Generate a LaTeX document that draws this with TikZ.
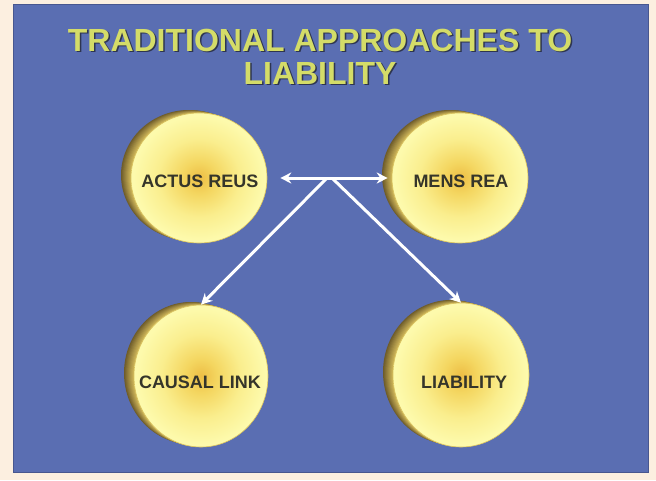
\documentclass[tikz,border=0pt]{standalone}
\usepackage{fontspec}
\setmainfont{Liberation Sans}
\usetikzlibrary{shapes.geometric,arrows.meta}
\definecolor{peach}{HTML}{FCEFE0}
\definecolor{panel}{HTML}{5A6EB2}
\definecolor{paneledge}{HTML}{48578F}
\definecolor{titlec}{HTML}{D4DC68}
\definecolor{titleshadow}{HTML}{2E3550}
\definecolor{rimdark}{HTML}{6E5C2A}
\definecolor{rimlight}{HTML}{D6BC5C}
\definecolor{facec0}{HTML}{EDBE45}
\definecolor{facec1}{HTML}{F4D660}
\definecolor{facec2}{HTML}{FAEE8E}
\definecolor{facec3}{HTML}{FDFAAC}
\definecolor{facedge}{HTML}{D9C25E}
\definecolor{textc}{HTML}{35352A}
\pgfdeclareradialshading{discshade}{\pgfpoint{0bp}{0bp}}{color(0bp)=(facec0); color(6bp)=(facec1); color(15bp)=(facec2); color(24bp)=(facec3); color(50bp)=(facec3)}
\tikzset{
  face/.style={ellipse, minimum width=#1, inner sep=0pt, shading=discshade, draw=facedge, line width=0.6pt},
  lab/.style={font=\bfseries\fontsize{18}{20}\selectfont, text=textc, inner sep=0pt},
  titletext/.style={font=\bfseries\fontsize{32}{36}\selectfont, text=titlec, inner sep=0pt},
  titleshade/.style={font=\bfseries\fontsize{32}{36}\selectfont, text=titleshadow, inner sep=0pt},
  arr/.style={draw=white, line width=3pt, -{Stealth[length=11pt,width=11pt]}},
  arrboth/.style={draw=white, line width=3pt, {Stealth[length=11pt,width=11pt]}-{Stealth[length=11pt,width=11pt]}}
}
\newcommand\coinrim[4]{%
  \foreach \i in {0,...,10} {%
    \pgfmathtruncatemacro\m{10*\i}%
    \fill[rimlight!\m!rimdark] ({#1-10+\i},{#2-3+0.3*\i}) ellipse ({#3} and {#4});
  }%
}
\begin{document}
\begin{tikzpicture}[x=1pt,y=-1pt]
\fill[peach] (0,0) rectangle (656,480);
\useasboundingbox (0,0) rectangle (656,480);
\fill[panel] (13,4) rectangle (648,472);
\draw[paneledge, line width=1pt] (13,4) rectangle (648,472);

% title
\node[titleshade] (t1s) at (321.5,41.5) {TRADITIONAL APPROACHES TO};
\node[titletext] (t1) at (320,40) {TRADITIONAL APPROACHES TO};
\node[titleshade] (t2s) at (321.5,74.5) {LIABILITY};
\node[titletext] (t2) at (320,73) {LIABILITY};

% discs
\coinrim{199}{178}{68}{65}
\node[face=136pt, minimum height=130pt] (actus) at (199,178) {};
\node[lab] (actust) at (200,181) {ACTUS REUS};

\coinrim{460}{178}{68}{65}
\node[face=136pt, minimum height=130pt] (mens) at (460,178) {};
\node[lab] (menst) at (461,181) {MENS REA};

\coinrim{201}{376}{67}{71}
\node[face=134pt, minimum height=142pt] (causal) at (201,376) {};
\node[lab] (causalt) at (200,382) {CAUSAL LINK};

\coinrim{461}{375}{68}{72}
\node[face=136pt, minimum height=144pt] (liab) at (461,375) {};
\node[lab] (liabt) at (464,382) {LIABILITY};

% connectors
\coordinate (jl) at (326,179);
\coordinate (jr) at (333,179);
\draw[arrboth] ([xshift=13pt]actus.east) -- ([xshift=-4pt]mens.west);
\draw[arr] (jl) -- (causal.north);
\draw[arr] (jr) -- (liab.north);
\end{tikzpicture}
\end{document}
